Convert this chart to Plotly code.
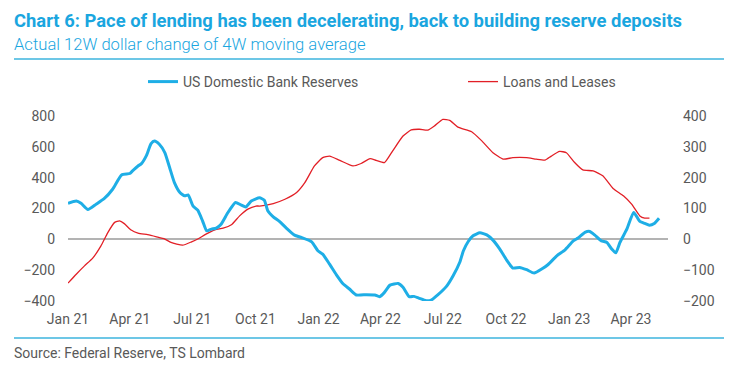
import plotly.graph_objects as go

# US Domestic Bank Reserves (left axis)
res_dates = ["2021-01-01","2021-01-13","2021-01-20","2021-01-30","2021-02-11","2021-02-23","2021-03-07","2021-03-20",
 "2021-04-01","2021-04-05","2021-04-13","2021-04-18","2021-04-25","2021-05-02","2021-05-07","2021-05-14","2021-05-22",
 "2021-05-29","2021-06-05","2021-06-13","2021-06-20","2021-06-25","2021-07-02","2021-07-09","2021-07-16","2021-07-22",
 "2021-07-29","2021-08-05","2021-08-12","2021-08-22","2021-09-02","2021-09-10","2021-09-17","2021-09-25","2021-10-07",
 "2021-10-14","2021-10-19","2021-10-27","2021-11-05","2021-11-15","2021-11-27","2021-12-07","2021-12-22","2021-12-31",
 "2022-01-07","2022-01-17","2022-01-27","2022-02-06","2022-02-15","2022-02-25","2022-03-12","2022-03-24","2022-03-31",
 "2022-04-07","2022-04-15","2022-04-27","2022-05-04","2022-05-13","2022-05-20","2022-05-27","2022-06-07","2022-06-14",
 "2022-06-24","2022-07-06","2022-07-16","2022-07-26","2022-07-31","2022-08-07","2022-08-14","2022-08-24","2022-09-03",
 "2022-09-12","2022-09-22","2022-10-02","2022-10-11","2022-10-21","2022-10-31","2022-11-11","2022-11-22","2022-12-01",
 "2022-12-14","2022-12-26","2023-01-07","2023-01-14","2023-01-24","2023-01-31","2023-02-07","2023-02-17","2023-02-25",
 "2023-03-04","2023-03-10","2023-03-16","2023-03-26","2023-04-05","2023-04-14","2023-04-21","2023-04-28","2023-05-05",
 "2023-05-12"]
res_values = [234,249,234,194,228,265,325,418,
 427,444,476,491,541,621,638,617,563,
 466,368,304,282,288,217,189,120,55,
 66,73,98,174,239,223,210,249,269,
 254,185,146,116,73,27,12,-16,-74,
 -96,-161,-230,-290,-322,-361,-359,-361,-372,
 -344,-297,-286,-311,-372,-370,-381,-398,-394,
 -359,-307,-236,-145,-74,-14,23,42,29,
 -5,-63,-135,-186,-182,-197,-219,-193,-165,
 -107,-68,-10,8,45,51,29,-10,-20,
 -63,-87,-20,66,174,116,103,92,103,
 137]

# Loans and Leases (right axis)
loan_dates = ["2021-01-01","2021-01-13","2021-01-25","2021-02-06","2021-02-18","2021-02-28","2021-03-10","2021-03-17",
 "2021-03-24","2021-04-03","2021-04-13","2021-04-27","2021-05-10","2021-05-22","2021-05-31","2021-06-17","2021-06-30",
 "2021-07-09","2021-07-21","2021-08-03","2021-08-15","2021-08-27","2021-09-08","2021-09-20","2021-10-02","2021-10-07",
 "2021-10-27","2021-11-13","2021-11-30","2021-12-12","2021-12-26","2022-01-07","2022-01-17","2022-02-01","2022-02-20",
 "2022-03-04","2022-03-17","2022-03-26","2022-04-07","2022-04-19","2022-05-04","2022-05-16","2022-05-28","2022-06-09",
 "2022-06-19","2022-07-01","2022-07-11","2022-07-23","2022-08-12","2022-08-26","2022-09-12","2022-09-27","2022-10-11",
 "2022-10-31","2022-11-14","2022-11-27","2022-12-06","2022-12-18","2022-12-28","2023-01-09","2023-01-21","2023-02-05",
 "2023-02-19","2023-03-06","2023-03-21","2023-04-02","2023-04-14","2023-04-21","2023-04-28"]
loan_values = [-142,-113,-86,-61,-21,22,55,60,
 51,30,20,15,8,1,-10,-19,-8,
 1,17,31,36,47,76,98,108,108,
 116,130,152,184,238,265,270,256,238,
 246,262,256,249,287,335,355,357,354,
 368,389,386,364,349,321,281,260,265,
 265,260,257,270,285,281,249,225,222,
 206,165,141,114,76,69,69]

x_tick_vals = ["2021-01-01","2021-04-01","2021-07-01","2021-10-01","2022-01-01","2022-04-01","2022-07-01",
               "2022-10-01","2023-01-01","2023-04-01"]
x_tick_text = ["Jan 21","Apr 21","Jul 21","Oct 21","Jan 22","Apr 22","Jul 22","Oct 22","Jan 23","Apr 23"]
left_ticks = [-400,-200,0,200,400,600,800]
right_ticks = [-200,-100,0,100,200,300,400]

BLUE = "#1EAEE6"
RED = "#E21F26"
TITLE = "#1AA6DF"
GREY = "#595959"

fig = go.Figure()
fig.add_trace(go.Scatter(x=res_dates, y=res_values, name="US Domestic Bank Reserves", yaxis="y2",
                         legend="legend",
                         mode="lines", line=dict(color=BLUE, width=3, shape="spline", smoothing=0.5)))
fig.add_trace(go.Scatter(x=loan_dates, y=loan_values, name="Loans and Leases", yaxis="y",
                         legend="legend2",
                         mode="lines", line=dict(color=RED, width=1.3, shape="spline", smoothing=0.5)))

# page body has an 8px default margin: lay out in screen pixels, then shift
OFF = 8
SW, SH = 734, 367
W, H = SW - OFF, SH - OFF
pl, pr, pt, pb = 68, 668, 116, 301   # plot area in screen pixels
ml, mr, mt, mb = pl - OFF, W - (pr - OFF), pt - OFF, H - (pb - OFF)
pw, ph = pr - pl, pb - pt
def px(x): return (x - pl) / pw
def py(y): return 1 - (y - pt) / ph

leg_common = dict(orientation="h", xanchor="left", yanchor="middle",
                  font=dict(size=14, color=GREY), bgcolor="rgba(0,0,0,0)")

fig.update_layout(
    width=W, height=H, autosize=False,
    margin=dict(l=ml, r=mr, t=mt, b=mb, autoexpand=False),
    paper_bgcolor="white", plot_bgcolor="white",
    font=dict(family="Roboto", size=14, color=GREY),
    showlegend=True,
    legend=dict(x=px(143), y=py(82), **leg_common),
    legend2=dict(x=px(463), y=py(82), **leg_common),
    xaxis=dict(type="date", range=["2021-01-01", "2023-05-25"], tickmode="array",
               tickvals=x_tick_vals, ticktext=x_tick_text, showgrid=False, zeroline=False,
               showline=False, ticks="", ticklabelstandoff=8, tickfont=dict(size=14, color=GREY)),
    yaxis=dict(side="right", range=[-200, 400], tickmode="array", tickvals=right_ticks,
               showgrid=False, zeroline=False, showline=False, ticks="", ticklabelstandoff=14,
               tickfont=dict(size=14, color=GREY)),
    yaxis2=dict(side="left", overlaying="y", range=[-400, 800], tickmode="array", tickvals=left_ticks,
                showgrid=False, zeroline=True, zerolinecolor="#B3B3B3", zerolinewidth=2,
                showline=False, ticks="", ticklabelstandoff=12, tickfont=dict(size=14, color=GREY)),
    shapes=[
        dict(type="line", xref="paper", yref="paper", x0=px(14), x1=px(724), y0=py(59), y1=py(59),
             line=dict(color="#3CB4DE", width=1.5)),
        dict(type="line", xref="paper", yref="paper", x0=px(14), x1=px(724), y0=py(338), y1=py(338),
             line=dict(color="#3CB4DE", width=1.5)),
    ],
    annotations=[
        dict(text="<b>Chart 6: Pace of lending has been decelerating, back to building reserve deposits</b>",
             xref="paper", yref="paper", x=px(12), y=py(20), xanchor="left", yanchor="middle",
             showarrow=False, font=dict(family="Roboto", size=18.4, color=TITLE)),
        dict(text="Actual 12W dollar change of 4W moving average",
             xref="paper", yref="paper", x=px(12), y=py(44), xanchor="left", yanchor="middle",
             showarrow=False, font=dict(family="Roboto", size=16.6, color=TITLE, weight=300)),
        dict(text="Source: Federal Reserve, TS Lombard",
             xref="paper", yref="paper", x=px(12), y=py(353), xanchor="left", yanchor="middle",
             showarrow=False, font=dict(family="Roboto", size=14, color=GREY)),
    ],
)

fig.write_html("out.html")
